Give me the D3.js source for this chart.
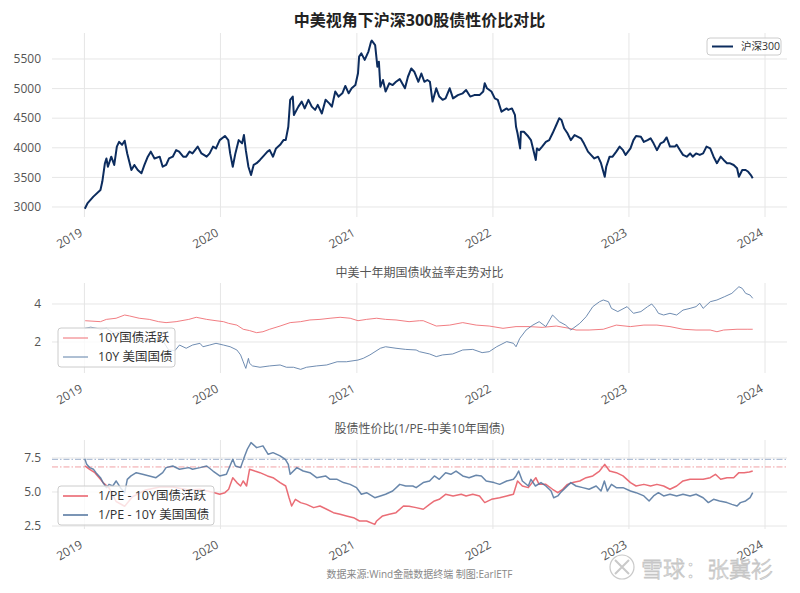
<!DOCTYPE html>
<html>
<head>
<meta charset="utf-8">
<script src="https://cdn.jsdelivr.net/npm/d3@7"></script>
<style>
body { margin: 0; background: #fff; }
svg { font-family: "Open Sans", "Noto Sans CJK SC", sans-serif; }
</style>
</head>
<body>
<svg id="chart" width="800" height="593"></svg>
<script>
// 沪深300 收盘
var hs300Dates = ['2019-01-02','2019-01-09','2019-01-25','2019-02-13','2019-02-18','2019-02-25','2019-03-01','2019-03-05','2019-03-14','2019-03-22','2019-03-29','2019-04-04','2019-04-12','2019-04-19','2019-04-26','2019-05-07','2019-05-15','2019-05-24','2019-06-03','2019-06-11','2019-06-20','2019-06-28','2019-07-08','2019-07-22','2019-07-30','2019-08-08','2019-08-16','2019-08-26','2019-09-04','2019-09-12','2019-09-23','2019-10-01','2019-10-10','2019-10-18','2019-11-01','2019-11-11','2019-11-25','2019-12-03','2019-12-12','2019-12-20','2019-12-30','2020-01-13','2020-01-22','2020-01-27','2020-02-03','2020-02-10','2020-02-19','2020-02-28','2020-03-04','2020-03-09','2020-03-16','2020-03-23','2020-03-30','2020-04-07','2020-04-16','2020-04-24','2020-05-06','2020-05-12','2020-05-21','2020-05-29','2020-06-09','2020-06-18','2020-06-24','2020-07-01','2020-07-06','2020-07-13','2020-07-16','2020-07-28','2020-08-06','2020-08-14','2020-08-24','2020-09-02','2020-09-11','2020-09-18','2020-09-29','2020-10-09','2020-10-19','2020-10-26','2020-11-04','2020-11-13','2020-11-23','2020-12-01','2020-12-10','2020-12-18','2020-12-28','2021-01-04','2021-01-07','2021-01-13','2021-01-22','2021-02-01','2021-02-08','2021-02-10','2021-02-19','2021-02-25','2021-03-01','2021-03-05','2021-03-12','2021-03-19','2021-03-29','2021-04-07','2021-04-16','2021-04-26','2021-05-10','2021-05-18','2021-05-27','2021-06-04','2021-06-15','2021-06-23','2021-07-01','2021-07-09','2021-07-16','2021-07-23','2021-08-02','2021-08-10','2021-08-19','2021-08-27','2021-09-07','2021-09-16','2021-09-29','2021-10-12','2021-10-21','2021-11-01','2021-11-12','2021-11-26','2021-12-06','2021-12-10','2021-12-16','2021-12-28','2022-01-06','2022-01-14','2022-01-24','2022-02-07','2022-02-11','2022-02-21','2022-03-01','2022-03-04','2022-03-08','2022-03-15','2022-03-17','2022-03-25','2022-04-06','2022-04-13','2022-04-26','2022-04-29','2022-05-05','2022-05-13','2022-05-23','2022-06-01','2022-06-10','2022-06-20','2022-06-28','2022-07-04','2022-07-11','2022-07-20','2022-07-29','2022-08-08','2022-08-16','2022-08-25','2022-09-02','2022-09-13','2022-09-21','2022-09-30','2022-10-10','2022-10-18','2022-10-28','2022-11-01','2022-11-10','2022-11-18','2022-11-28','2022-12-07','2022-12-16','2022-12-23','2023-01-05','2023-01-13','2023-01-20','2023-02-02','2023-02-10','2023-02-20','2023-02-28','2023-03-08','2023-03-17','2023-03-27','2023-04-04','2023-04-12','2023-04-21','2023-05-04','2023-05-09','2023-05-18','2023-05-26','2023-06-05','2023-06-14','2023-06-21','2023-06-30','2023-07-10','2023-07-19','2023-07-28','2023-08-07','2023-08-16','2023-08-25','2023-09-04','2023-09-12','2023-09-21','2023-09-28','2023-10-09','2023-10-18','2023-10-23','2023-11-01','2023-11-10','2023-11-17','2023-11-24','2023-11-29']
var hs300Values = [2970,3060,3175,3287,3430,3740,3820,3680,3850,3710,4020,4100,4050,4120,3900,3625,3710,3625,3570,3710,3850,3935,3820,3850,3680,3710,3820,3850,3960,3935,3850,3850,3935,3905,4020,3905,3850,3905,4020,3990,4130,4200,4130,3905,3680,3905,4130,4075,4215,3960,3680,3540,3710,3740,3795,3850,3935,3960,3850,3990,4050,4130,4130,4355,4810,4865,4555,4695,4780,4665,4810,4695,4640,4725,4580,4810,4750,4695,4950,4865,4920,5045,4920,5005,5060,5260,5540,5595,5485,5625,5790,5810,5735,5370,5455,5030,5145,4950,5090,5060,5115,5160,5005,5200,5340,5285,5115,5255,5115,5145,5115,4780,5005,4865,4810,4835,5005,4835,4890,4920,4975,4865,4890,4890,4950,5090,5005,4950,4835,4810,4610,4665,4640,4665,4555,4355,4245,3990,4270,4270,4190,4130,3795,3990,3960,4020,4100,4130,4245,4385,4500,4470,4330,4245,4130,4215,4190,4160,4075,3935,3880,3820,3850,3740,3510,3680,3850,3850,3935,4020,3960,3880,3990,4130,4200,4185,4100,4130,4160,4075,3960,4075,4100,4175,4020,4020,4050,3960,3880,3850,3905,3850,3905,3880,3905,4020,3990,3850,3740,3850,3795,3740,3740,3710,3655,3510,3625,3625,3595,3540,3485]

// 10Y国债活跃
var cn10yDates = ['2019-01-03','2019-02-13','2019-03-01','2019-03-27','2019-04-19','2019-05-02','2019-05-28','2019-06-24','2019-07-19','2019-08-08','2019-09-04','2019-10-08','2019-10-28','2019-11-25','2019-12-20','2020-01-09','2020-01-23','2020-02-14','2020-03-02','2020-03-19','2020-04-07','2020-04-24','2020-05-12','2020-06-09','2020-07-06','2020-08-03','2020-08-28','2020-09-24','2020-10-21','2020-11-17','2020-12-14','2021-01-04','2021-01-27','2021-02-23','2021-03-19','2021-04-16','2021-05-21','2021-06-18','2021-06-28','2021-08-02','2021-09-07','2021-10-12','2021-11-17','2021-12-22','2022-01-28','2022-03-04','2022-04-08','2022-05-13','2022-06-20','2022-07-25','2022-08-12','2022-09-16','2022-10-24','2022-11-28','2023-01-05','2023-02-10','2023-03-17','2023-04-21','2023-05-26','2023-06-30','2023-08-07','2023-08-25','2023-09-12','2023-10-18','2023-11-14','2023-11-29']
var cn10yValues = [3.12,3.07,3.19,3.25,3.42,3.37,3.25,3.19,3.07,3.02,3.07,3.19,3.30,3.19,3.12,3.07,2.98,2.89,2.67,2.60,2.49,2.54,2.67,2.84,3.02,3.07,3.16,3.19,3.25,3.30,3.25,3.12,3.19,3.25,3.19,3.16,3.07,3.12,3.12,2.84,2.89,3.02,2.89,2.84,2.72,2.81,2.81,2.77,2.84,2.72,2.63,2.63,2.67,2.89,2.81,2.89,2.89,2.81,2.67,2.63,2.63,2.54,2.63,2.67,2.67,2.67]

// 10Y 美国国债
var us10yDates = ['2019-01-02','2019-01-18','2019-02-13','2019-03-01','2019-03-22','2019-04-17','2019-05-10','2019-05-31','2019-06-20','2019-07-15','2019-08-01','2019-08-15','2019-09-01','2019-09-13','2019-10-01','2019-10-18','2019-11-07','2019-11-15','2019-12-03','2019-12-20','2020-01-09','2020-01-27','2020-02-14','2020-02-24','2020-03-02','2020-03-09','2020-03-16','2020-03-19','2020-03-27','2020-04-16','2020-05-12','2020-06-09','2020-06-26','2020-07-15','2020-08-03','2020-08-19','2020-09-15','2020-10-12','2020-11-09','2020-12-04','2021-01-04','2021-01-18','2021-02-05','2021-03-05','2021-03-19','2021-04-16','2021-05-12','2021-06-09','2021-06-18','2021-07-15','2021-08-02','2021-08-19','2021-09-15','2021-10-12','2021-11-08','2021-12-03','2021-12-22','2022-01-11','2022-02-07','2022-02-25','2022-03-04','2022-03-14','2022-03-31','2022-04-18','2022-05-05','2022-05-23','2022-06-10','2022-06-28','2022-07-15','2022-07-29','2022-08-22','2022-09-08','2022-09-26','2022-10-14','2022-10-24','2022-11-07','2022-11-15','2022-12-02','2022-12-27','2023-01-13','2023-02-02','2023-02-20','2023-03-03','2023-03-13','2023-03-21','2023-04-04','2023-04-21','2023-05-09','2023-05-26','2023-06-14','2023-06-30','2023-07-10','2023-07-19','2023-08-07','2023-08-25','2023-09-15','2023-10-04','2023-10-23','2023-11-01','2023-11-10','2023-11-22','2023-11-29']
var us10yValues = [2.72,2.78,2.68,2.72,2.45,2.59,2.45,2.13,2.03,2.09,2.02,1.58,1.55,1.84,1.67,1.84,1.93,1.75,1.84,1.93,1.84,1.75,1.58,1.32,0.96,0.61,1.14,0.88,0.74,0.67,0.74,0.79,0.67,0.67,0.56,0.67,0.74,0.79,0.96,0.96,1.05,1.14,1.32,1.67,1.75,1.67,1.61,1.58,1.49,1.37,1.23,1.32,1.37,1.58,1.61,1.44,1.49,1.75,2.02,1.93,1.75,2.19,2.63,2.89,3.07,2.81,3.42,3.07,2.89,2.63,2.98,3.33,3.86,4.12,4.21,4.12,3.77,3.60,3.86,3.51,3.60,3.86,4.00,3.77,3.51,3.42,3.51,3.42,3.68,3.77,3.86,4.04,3.77,4.12,4.21,4.39,4.56,4.91,4.82,4.56,4.47,4.30]

// 1/PE - 10Y国债活跃
var cnSpreadDates = ['2019-01-02','2019-01-15','2019-01-29','2019-02-13','2019-02-20','2019-03-08','2019-03-27','2019-04-19','2019-05-10','2019-06-14','2019-07-22','2019-08-26','2019-10-08','2019-11-07','2019-12-16','2019-12-30','2020-01-13','2020-01-23','2020-02-03','2020-02-14','2020-02-24','2020-03-02','2020-03-11','2020-03-19','2020-04-02','2020-04-16','2020-05-06','2020-05-21','2020-06-09','2020-06-24','2020-07-03','2020-07-10','2020-07-20','2020-08-03','2020-08-19','2020-09-07','2020-09-24','2020-10-12','2020-10-30','2020-11-17','2020-12-04','2020-12-23','2021-01-08','2021-01-27','2021-02-18','2021-02-23','2021-03-11','2021-03-29','2021-04-16','2021-05-06','2021-05-21','2021-06-09','2021-06-28','2021-07-15','2021-07-28','2021-08-10','2021-08-27','2021-09-16','2021-10-08','2021-10-21','2021-11-08','2021-11-26','2021-12-10','2021-12-28','2022-01-19','2022-02-07','2022-02-25','2022-03-08','2022-03-21','2022-04-06','2022-04-26','2022-05-05','2022-05-23','2022-06-10','2022-06-24','2022-07-07','2022-07-20','2022-08-03','2022-08-22','2022-09-08','2022-09-26','2022-10-14','2022-10-28','2022-11-10','2022-11-28','2022-12-16','2023-01-05','2023-01-20','2023-02-10','2023-02-28','2023-03-17','2023-04-04','2023-04-21','2023-05-09','2023-05-26','2023-06-14','2023-06-30','2023-07-19','2023-08-07','2023-08-21','2023-09-04','2023-09-21','2023-10-09','2023-10-23','2023-11-06','2023-11-20','2023-11-29']
var cnSpreadValues = [6.91,6.67,6.42,5.93,5.69,5.30,4.30,3.95,4.65,5.15,5.37,5.37,5.15,5.20,4.95,4.83,4.95,5.20,6.05,5.69,5.44,5.81,5.44,6.67,6.54,6.42,6.18,6.05,5.69,5.44,4.58,3.97,4.46,4.22,4.09,3.85,3.97,3.73,3.48,3.36,3.24,3.11,2.87,2.87,2.62,2.87,3.24,3.36,3.48,3.97,3.95,3.85,3.73,4.09,4.34,4.46,4.83,4.71,4.83,4.71,4.83,4.71,4.22,4.46,4.58,4.71,4.83,5.81,5.44,5.32,6.05,5.56,5.56,5.20,4.95,5.20,5.56,5.69,5.81,6.05,6.18,6.54,7.03,6.54,6.42,6.18,5.69,5.44,5.56,5.44,5.56,5.44,5.20,5.44,5.81,5.93,5.93,5.93,6.05,6.30,5.93,6.05,6.05,6.42,6.42,6.47,6.54]

// 1/PE - 10Y 美国国债
var usSpreadDates = ['2019-01-02','2019-01-07','2019-01-15','2019-01-25','2019-02-01','2019-02-13','2019-02-20','2019-03-01','2019-03-08','2019-03-18','2019-03-27','2019-04-08','2019-04-19','2019-04-26','2019-05-06','2019-05-20','2019-06-06','2019-06-24','2019-07-12','2019-07-30','2019-08-08','2019-08-26','2019-09-13','2019-10-08','2019-10-18','2019-11-07','2019-11-25','2019-12-12','2019-12-30','2020-01-17','2020-02-03','2020-02-10','2020-02-24','2020-03-06','2020-03-13','2020-03-23','2020-04-07','2020-04-24','2020-05-08','2020-05-21','2020-06-09','2020-06-23','2020-07-01','2020-07-06','2020-07-24','2020-08-10','2020-08-28','2020-09-15','2020-10-09','2020-10-21','2020-11-09','2020-11-26','2020-12-14','2020-12-31','2021-01-13','2021-01-27','2021-02-18','2021-03-05','2021-03-19','2021-04-07','2021-04-26','2021-05-12','2021-05-31','2021-06-09','2021-06-28','2021-07-15','2021-07-28','2021-08-10','2021-08-27','2021-09-10','2021-09-24','2021-10-12','2021-10-29','2021-11-17','2021-12-01','2021-12-14','2022-01-04','2022-01-19','2022-02-07','2022-02-25','2022-03-04','2022-03-11','2022-03-21','2022-04-06','2022-04-13','2022-04-25','2022-05-10','2022-05-23','2022-06-06','2022-06-13','2022-06-24','2022-07-01','2022-07-15','2022-07-29','2022-08-12','2022-08-30','2022-09-16','2022-10-05','2022-10-18','2022-10-27','2022-11-04','2022-11-15','2022-11-28','2022-12-16','2023-01-05','2023-01-20','2023-02-10','2023-02-24','2023-03-08','2023-03-21','2023-04-04','2023-04-21','2023-05-09','2023-05-26','2023-06-14','2023-06-30','2023-07-19','2023-08-02','2023-08-16','2023-09-01','2023-09-21','2023-10-04','2023-10-18','2023-10-27','2023-11-10','2023-11-22','2023-11-29']
var usSpreadValues = [7.45,7.03,6.79,6.67,6.42,6.05,5.69,5.32,5.56,5.44,5.81,5.30,4.95,5.93,6.18,6.42,6.30,6.18,6.05,6.42,6.79,6.91,6.67,6.79,6.67,6.79,6.91,6.54,6.18,6.30,7.40,6.91,6.79,7.65,8.14,8.63,8.26,8.39,7.77,7.89,7.65,7.40,7.03,6.30,6.79,6.54,6.42,6.05,6.18,5.93,5.93,5.69,5.56,5.32,4.83,4.95,4.58,4.71,4.83,5.07,5.56,5.44,5.44,5.32,5.69,5.81,6.18,5.93,6.42,6.30,6.54,6.18,6.05,6.23,6.18,5.81,5.69,5.56,5.81,5.93,6.18,6.54,5.81,5.44,5.93,5.44,5.69,5.44,5.07,4.58,4.71,4.95,5.32,5.69,5.44,5.32,5.20,5.44,5.07,5.81,5.07,5.56,5.32,5.32,5.07,4.95,4.71,4.34,4.71,4.95,4.71,4.83,4.71,4.83,4.71,4.83,4.58,4.22,4.46,4.34,4.22,4.09,3.97,4.22,4.34,4.58,4.95]

// 参考线
var usSpreadRef = 7.40
var cnSpreadRef = 6.84

var topTicks = [3000, 3500, 4000, 4500, 5000, 5500]
var midTicks = [2, 4]
var botTicks = [2.5, 5.0, 7.5]
var yearTicks = ['2019-01-01','2020-01-01','2021-01-01','2022-01-01','2023-01-01','2024-01-01']

var parse = d3.timeParse('%Y-%m-%d')
var svg = d3.select('#chart')
var left = 52, right = 787

var x = d3.scaleTime()
    .domain([parse('2018-10-06'), parse('2024-02-29')])
    .range([left, right])

function zip(dates, values) {
    return dates.map((d, i) => ({ date: parse(d), value: values[i] }))
}

function panel(top, bottom, domain, ticks, fmt, title, titleY, titleStyle) {
    var y = d3.scaleLinear().domain(domain).range([bottom, top])
    var g = svg.append('g')

    g.selectAll('.hgrid').data(ticks).enter().append('line')
        .attr('x1', left).attr('x2', right)
        .attr('y1', d => y(d)).attr('y2', d => y(d))
        .attr('stroke', '#e6e6e6').attr('stroke-width', 1)

    g.selectAll('.vgrid').data(yearTicks).enter().append('line')
        .attr('x1', d => x(parse(d))).attr('x2', d => x(parse(d)))
        .attr('y1', top).attr('y2', bottom)
        .attr('stroke', '#e6e6e6').attr('stroke-width', 1)

    g.selectAll('.ylab').data(ticks).enter().append('text')
        .attr('x', 41).attr('y', d => y(d)).attr('dy', '0.35em')
        .attr('text-anchor', 'end')
        .attr('font-size', 12).attr('fill', '#555')
        .text(d => fmt(d))

    g.selectAll('.xlab').data(yearTicks).enter().append('text')
        .attr('transform', d => `translate(${x(parse(d)) - 1},${bottom + 18}) rotate(-30)`)
        .attr('text-anchor', 'end')
        .attr('font-size', 12).attr('fill', '#555')
        .text(d => d.slice(0, 4))

    g.append('text')
        .attr('x', (left + right) / 2).attr('y', titleY)
        .attr('text-anchor', 'middle')
        .attr('font-size', titleStyle.size)
        .attr('font-weight', titleStyle.weight)
        .attr('fill', titleStyle.color)
        .text(title)

    return y
}

function drawLine(y, data, color, width, opacity) {
    var line = d3.line().x(d => x(d.date)).y(d => y(d.value))
    svg.append('path')
        .datum(data)
        .attr('d', line)
        .attr('fill', 'none')
        .attr('stroke', color)
        .attr('stroke-width', width)
        .attr('stroke-opacity', opacity)
        .attr('stroke-linejoin', 'round')
}

function legend(bx, by, bw, bh, items, fontSize, lineLen, rowH) {
    var g = svg.append('g')
    g.append('rect')
        .attr('x', bx).attr('y', by).attr('width', bw).attr('height', bh)
        .attr('rx', 3)
        .attr('fill', '#fff').attr('fill-opacity', 0.8)
        .attr('stroke', '#cccccc').attr('stroke-width', 1)
    items.forEach((it, i) => {
        var cy = by + rowH * (i + 0.5) + (bh - rowH * items.length) / 2
        g.append('line')
            .attr('x1', bx + 5).attr('x2', bx + 5 + lineLen)
            .attr('y1', cy).attr('y2', cy)
            .attr('stroke', it.color).attr('stroke-width', it.width)
        g.append('text')
            .attr('x', bx + 5 + lineLen + (lineLen > 22 ? 10 : 8)).attr('y', cy).attr('dy', '0.35em')
            .attr('font-size', fontSize).attr('fill', '#333')
            .text(it.label)
    })
}

// 上图
var yTop = panel(33, 217, [2831, 5939], topTicks, d3.format('d'),
    '中美视角下沪深300股债性价比对比', 26, { size: 16, weight: 'bold', color: '#222' })
drawLine(yTop, zip(hs300Dates, hs300Values), '#0c2c5e', 2, 1)
legend(707, 38, 74, 17, [{ label: '沪深300', color: '#0c2c5e', width: 2 }], 10.5, 21, 17)

// 中图
var yMid = panel(283, 373, [0.368, 5.105], midTicks, d3.format('d'),
    '中美十年期国债收益率走势对比', 277, { size: 12, weight: 'normal', color: '#555' })
drawLine(yMid, zip(cn10yDates, cn10yValues), '#ef6f74', 1, 0.9)
drawLine(yMid, zip(us10yDates, us10yValues), '#5f80a8', 1, 0.9)
legend(58, 328, 117, 39, [
    { label: '10Y国债活跃', color: '#ef6f74', width: 1 },
    { label: '10Y 美国国债', color: '#5f80a8', width: 1 }
], 12.5, 25, 19)

// 下图
var yBot = panel(440, 529, [2.28, 8.82], botTicks, d3.format('.1f'),
    '股债性价比(1/PE-中美10年国债)', 433, { size: 12, weight: 'normal', color: '#555' })

svg.append('line')
    .attr('x1', left).attr('x2', right)
    .attr('y1', yBot(usSpreadRef)).attr('y2', yBot(usSpreadRef))
    .attr('stroke', '#9db0cc').attr('stroke-width', 1)
    .attr('stroke-dasharray', '6,2,1.5,2')
svg.append('line')
    .attr('x1', left).attr('x2', right)
    .attr('y1', yBot(cnSpreadRef)).attr('y2', yBot(cnSpreadRef))
    .attr('stroke', '#f0a0a4').attr('stroke-width', 1)
    .attr('stroke-dasharray', '6,2,1.5,2')

drawLine(yBot, zip(cnSpreadDates, cnSpreadValues), '#e85d67', 1.5, 0.9)
drawLine(yBot, zip(usSpreadDates, usSpreadValues), '#4f729c', 1.5, 0.85)
legend(58, 486, 156, 39, [
    { label: '1/PE - 10Y国债活跃', color: '#e85d67', width: 1.5 },
    { label: '1/PE - 10Y 美国国债', color: '#4f729c', width: 1.5 }
], 12.5, 25, 19)

// 数据来源
svg.append('text')
    .attr('x', (left + right) / 2).attr('y', 578)
    .attr('text-anchor', 'middle')
    .attr('font-size', 10).attr('fill', '#888')
    .text('数据来源:Wind金融数据终端  制图:EarlETF')

// 水印
var wm = svg.append('g').attr('opacity', 0.9)
wm.append('circle')
    .attr('cx', 622).attr('cy', 567).attr('r', 12)
    .attr('fill', '#fff').attr('stroke', '#c4c4c4').attr('stroke-width', 1.2)
wm.append('path')
    .attr('d', 'M615,560 Q622,567 629,574 M629,560 Q622,567 615,574')
    .attr('fill', 'none').attr('stroke', '#c4c4c4').attr('stroke-width', 2)
wm.append('text')
    .attr('x', 641).attr('y', 577)
    .attr('font-family', '"Noto Sans CJK SC"')
    .attr('font-size', 22).attr('font-weight', 300)
    .attr('fill', '#fff').attr('stroke', '#c0c0c0').attr('stroke-width', 0.8)
    .text('雪球：张冀衫')
</script>
</body>
</html>
